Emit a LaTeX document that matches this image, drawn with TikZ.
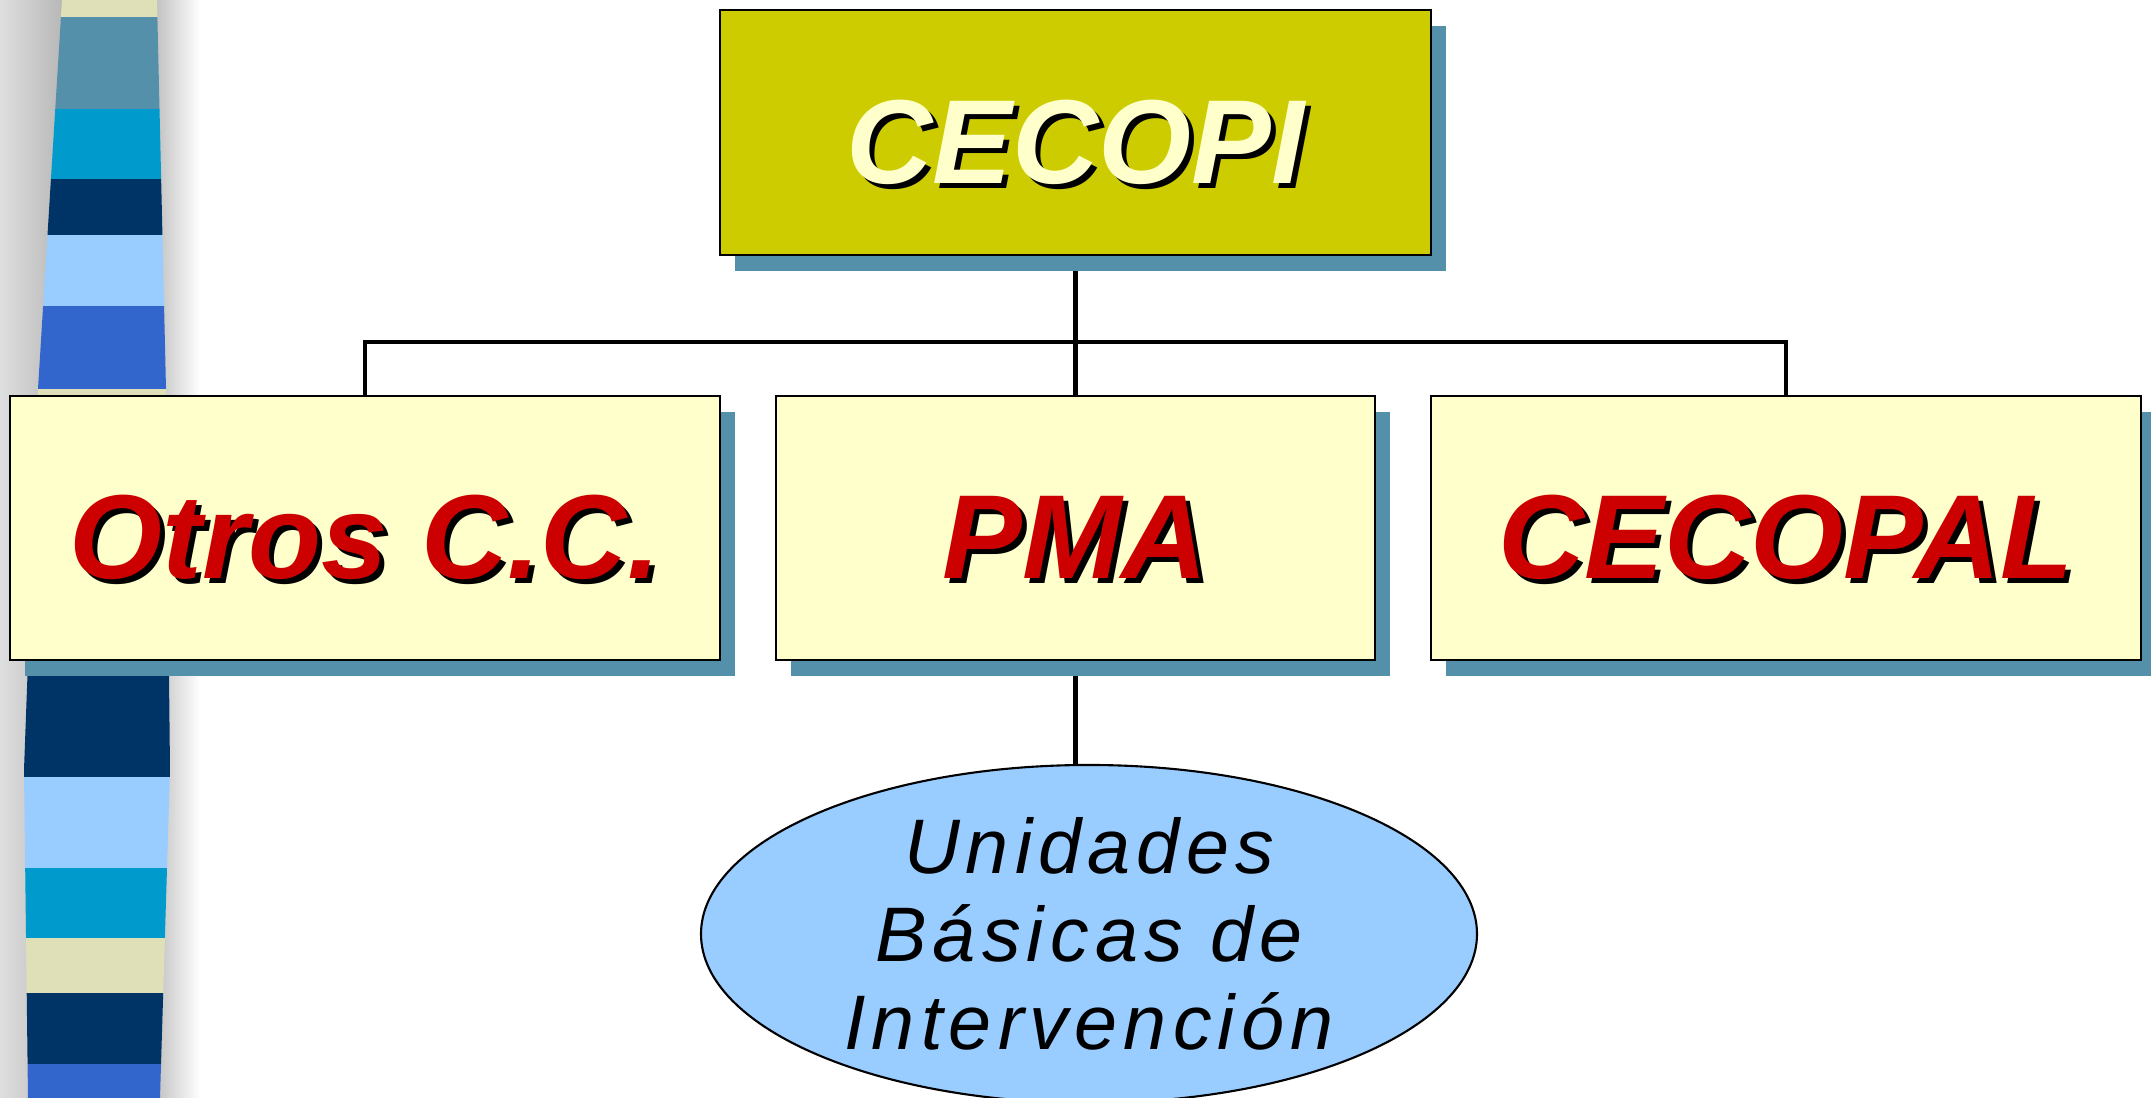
\documentclass[tikz,border=0pt]{standalone}
\usepackage{fontspec}
\setmainfont{Liberation Sans}
\usetikzlibrary{shapes.geometric, shadows, backgrounds}

\definecolor{olivebox}{HTML}{CCCC00}
\definecolor{creambox}{HTML}{FFFFCC}
\definecolor{shadowblue}{HTML}{5590AA}
\definecolor{labelred}{HTML}{CC0000}
\definecolor{ubiblue}{HTML}{99CCFF}
\definecolor{stripecream}{HTML}{DFE0B8}
\definecolor{stripeteal}{HTML}{5590AA}
\definecolor{stripecyan}{HTML}{009BCC}
\definecolor{stripenavy}{HTML}{003366}
\definecolor{stripesky}{HTML}{99CCFF}
\definecolor{striperoyal}{HTML}{3366CC}

\newcommand{\shadowlabel}[2]{\makebox[0pt][l]{\hspace{1.4pt}\raisebox{-1.4pt}{\color{black}#2}}\textcolor{#1}{#2}}

\begin{document}
\begin{tikzpicture}[
        orgbox/.style={draw=black, line width=0.5pt, inner sep=0pt, minimum height=2.64cm,
            text height=29pt, text depth=0pt,
            drop shadow={shadow xshift=0.15cm, shadow yshift=-0.16cm, fill=shadowblue, opacity=1},
            font=\fontsize{34}{40}\selectfont\bfseries\itshape},
        link/.style={line width=1.2pt}
    ]
        \useasboundingbox (0,0) rectangle (21.51,10.98);

        % left stripe
        \shade[left color=gray!25, right color=gray!60] (0,0) rectangle (0.7,10.98);
        \shade[left color=gray!60, right color=white] (1.45,0) rectangle (2.0,10.98);
        \begin{scope}
            \clip (0.62,10.98) -- (0.38,7.09) -- (0.24,3.28) -- (0.28,0)
                -- (1.60,0) -- (1.70,3.28) -- (1.66,7.09) -- (1.57,10.98) -- cycle;
            \foreach \top/\bot/\col in {10.98/10.81/stripecream, 10.81/9.89/stripeteal,
                    9.89/9.19/stripecyan, 9.19/8.63/stripenavy, 8.63/7.92/stripesky,
                    7.92/7.09/striperoyal, 7.09/4.36/stripecream, 4.36/3.21/stripenavy,
                    3.21/2.30/stripesky, 2.30/1.60/stripecyan, 1.60/1.05/stripecream,
                    1.05/0.34/stripenavy, 0.34/0/striperoyal}
                \fill[\col] (0,\bot) rectangle (2,\top);
        \end{scope}

        \node[orgbox, fill=olivebox, minimum width=7.11cm, minimum height=2.45cm] (cecopi) at (10.755,9.655) {\shadowlabel{creambox}{CECOPI}};
        \node[orgbox, fill=creambox, minimum width=7.10cm] (otros) at (3.65,5.70) {\shadowlabel{labelred}{Otros C.C.}};
        \node[orgbox, fill=creambox, minimum width=5.99cm] (pma) at (10.755,5.70) {\shadowlabel{labelred}{PMA}};
        \node[orgbox, fill=creambox, minimum width=7.10cm] (cecopal) at (17.86,5.70) {\shadowlabel{labelred}{CECOPAL}};
        \node[ellipse, draw=black, line width=0.6pt, fill=ubiblue, minimum width=7.76cm, minimum height=3.38cm,
            inner sep=0pt, align=center, font=\fontsize{22}{25}\selectfont\itshape\addfontfeatures{LetterSpace=8}]
            (ubi) at (10.89,1.64) {Unidades\\Básicas de\\Intervención};

        \begin{scope}[on background layer]
            \coordinate (bus) at (0,7.56);
            \draw[link] (cecopi.south) -- (pma.north);
            \draw[link] (otros.north) -- (otros.north |- bus) -- (cecopal.north |- bus) -- (cecopal.north);
            \draw[link] (pma.south) -- (pma.south |- ubi.north);
        \end{scope}
    \end{tikzpicture}
\end{document}
